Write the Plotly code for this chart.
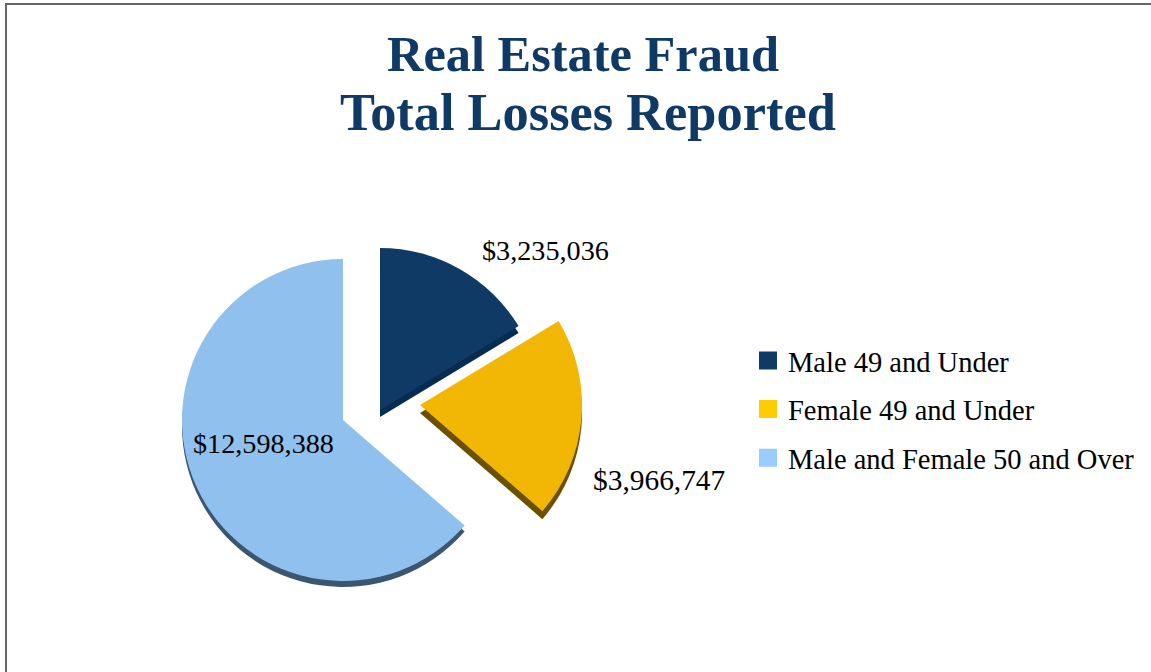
import plotly.graph_objects as go

categories = ["Male 49 and Under", "Female 49 and Under", "Male and Female 50 and Over"]
losses = [3235036, 3966747, 12598388]
colors = ["#103A66", "#F2B705", "#90C0EE"]
legend_colors = ["#103A66", "#FFCC00", "#99CCFF"]
edge_colors = ["#072C52", "#6B5000", "#3D566F"]
title_lines = ["Real Estate Fraud", "Total Losses Reported"]

SERIF = "Liberation Serif"
W, H = 1151, 672
CLEAR = "rgba(0,0,0,0)"

# Each slice is its own exploded pie: (apex x, apex y, radius, edge depth) in pixels
slice_geom = [(380, 410, 162, 7), (420, 405, 162, 8), (343, 420, 161, 6)]


def dom(cx, cy, r, dy=0):
    return dict(
        x=[(cx - r) / W, (cx + r) / W],
        y=[1 - (cy + r + dy) / H, 1 - (cy - r + dy) / H],
    )


def one_slice(i, palette):
    return [palette[j] if j == i else CLEAR for j in range(len(losses))]


fig = go.Figure()
for i, (cx, cy, r, depth) in enumerate(slice_geom):
    fig.add_trace(go.Pie(
        labels=categories, values=losses, sort=False, direction="clockwise", rotation=0,
        domain=dom(cx, cy, r, depth), textinfo="none", hoverinfo="skip", showlegend=False,
        marker=dict(colors=one_slice(i, edge_colors), line=dict(width=0)),
    ))
for i, (cx, cy, r, depth) in enumerate(slice_geom):
    fig.add_trace(go.Pie(
        labels=categories, values=losses, sort=False, direction="clockwise", rotation=0,
        domain=dom(cx, cy, r), textinfo="none", hoverinfo="skip", showlegend=False,
        marker=dict(colors=one_slice(i, colors), line=dict(width=0)),
    ))
for name, col in zip(categories, legend_colors):
    fig.add_trace(go.Scatter(
        x=[None], y=[None], mode="markers", name=name, legendgroup=name,
        marker=dict(symbol="square", size=16, color=col, line=dict(width=2, color=col)),
    ))

label_pos = [(545, 250), (659, 480), (263.5, 443)]
label_size = [28.2, 29.4, 28.2]
annotations = [
    dict(text=f"${v:,}", x=px / W, y=1 - py / H, xref="paper", yref="paper",
         xanchor="center", yanchor="middle", showarrow=False,
         font=dict(family=SERIF, size=s, color="#000000"))
    for v, (px, py), s in zip(losses, label_pos, label_size)
]
annotations.append(dict(
    text=f"<b>{title_lines[1]}</b>", x=587.5 / W, y=1 - 112 / H, xref="paper", yref="paper",
    xanchor="center", yanchor="middle", showarrow=False,
    font=dict(family=SERIF, size=52.4, color="#0F3A66"),
))

fig.update_layout(
    width=W, height=H, autosize=False,
    paper_bgcolor="white", plot_bgcolor="white",
    margin=dict(l=0, r=0, t=0, b=0),
    title=dict(
        text=f"<b>{title_lines[0]}</b>",
        x=583 / W, xanchor="center", y=1 - 53 / H, yanchor="middle",
        font=dict(family=SERIF, size=50.4, color="#0F3A66"),
    ),
    xaxis=dict(visible=False, domain=[0, 1]),
    yaxis=dict(visible=False, domain=[0, 1]),
    legend=dict(
        x=748 / W, y=1 - 335.5 / H, xanchor="left", yanchor="top",
        font=dict(family=SERIF, size=28.5, color="#000000"),
        tracegroupgap=8.5, itemwidth=30, bgcolor=CLEAR,
    ),
    annotations=annotations,
    shapes=[dict(type="rect", xref="paper", yref="paper",
                 x0=6 / W, x1=1.01, y0=-0.02, y1=1 - 4 / H,
                 line=dict(color="#666666", width=2), fillcolor=CLEAR)],
)
fig.write_html("out.html", config={"displayModeBar": False},
               post_script="document.body.style.margin='0';")
